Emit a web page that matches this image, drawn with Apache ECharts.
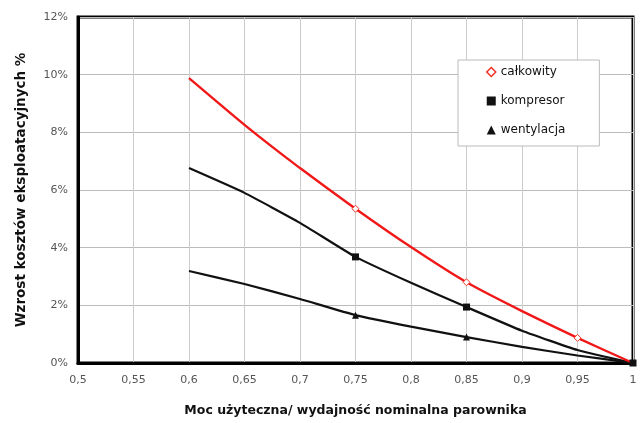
<!DOCTYPE html>
<html><head><meta charset="utf-8">
<script src="https://cdn.jsdelivr.net/npm/echarts@6/dist/echarts.min.js"></script>
<style>html,body{margin:0;padding:0;background:#fff}#c{width:643px;height:423px}</style>
</head><body><div id="c"></div>
<script>
const xValues = [0.6, 0.65, 0.7, 0.75, 0.8, 0.85, 0.9, 0.95, 1];
const calkowity = [9.88, 8.26, 6.76, 5.35, 4.02, 2.8, 1.8, 0.87, 0];
const kompresor = [6.76, 5.9, 4.86, 3.68, 2.78, 1.94, 1.12, 0.45, 0];
const wentylacja = [3.19, 2.74, 2.22, 1.66, 1.26, 0.9, 0.56, 0.26, 0];
const calkowityMarks = [0.75, 0.85, 0.95];
const kompresorMarks = [0.75, 0.85, 1];
const wentylacjaMarks = [0.75, 0.85];
const seriesNames = ['całkowity', 'kompresor', 'wentylacja'];

function build(vals, marks) {
  return xValues.map((x, i) => ({
    value: [x, vals[i]],
    symbolSize: marks.includes(x) ? 7 : 0
  }));
}
const font = '"DejaVu Sans", Arial, sans-serif';
const chart = echarts.init(document.getElementById('c'));
chart.setOption({
  animation: false,
  grid: {left: 78, right: 10, top: 17, bottom: 60, show: true, borderColor: '#000', borderWidth: 3},
  legend: {
    orient: 'vertical', left: 458, top: 60, width: 138,
    backgroundColor: '#fff', borderColor: '#bbb', borderWidth: 1,
    padding: [6, 34, 10, 28], itemGap: 17, itemWidth: 9, itemHeight: 9,
    textStyle: {fontFamily: font, fontSize: 12, color: '#111'},
    data: [
      {name: seriesNames[0], icon: 'diamond', itemStyle: {color: '#fff', borderColor: '#f03020', borderWidth: 1.5}},
      {name: seriesNames[1], icon: 'rect'},
      {name: seriesNames[2], icon: 'triangle'}
    ]
  },
  xAxis: {
    type: 'value', min: 0.5, max: 1, interval: 0.05,
    name: 'Moc użyteczna/ wydajność nominalna parownika',
    nameLocation: 'middle', nameGap: 41,
    nameTextStyle: {fontFamily: font, fontSize: 12.5, fontWeight: 'bold', color: '#111'},
    axisLine: {lineStyle: {color: '#000', width: 3}},
    axisTick: {show: false},
    axisLabel: {fontFamily: font, fontSize: 11, color: '#555', margin: 12,
      formatter: v => String(parseFloat(v.toFixed(2))).replace('.', ',')},
    splitLine: {show: true, lineStyle: {color: '#ccc', width: 1}}
  },
  yAxis: {
    type: 'value', min: 0, max: 12, interval: 2,
    name: 'Wzrost kosztów eksploatacyjnych %',
    nameLocation: 'middle', nameGap: 50,
    nameTextStyle: {fontFamily: font, fontSize: 13.5, fontWeight: 'bold', color: '#111'},
    axisLine: {lineStyle: {color: '#000', width: 3}},
    axisTick: {show: false},
    axisLabel: {fontFamily: font, fontSize: 11, color: '#555', margin: 10, formatter: '{value}%'},
    splitLine: {show: true, lineStyle: {color: '#bbb', width: 1}}
  },
  series: [
    {name: seriesNames[2], type: 'line', smooth: 0.15, symbol: 'triangle', data: build(wentylacja, wentylacjaMarks),
      lineStyle: {color: '#111', width: 2.2}, itemStyle: {color: '#111'}},
    {name: seriesNames[1], type: 'line', smooth: 0.15, symbol: 'rect', data: build(kompresor, kompresorMarks),
      lineStyle: {color: '#111', width: 2.2}, itemStyle: {color: '#111'}},
    {name: seriesNames[0], type: 'line', smooth: 0.15, symbol: 'diamond', data: build(calkowity, calkowityMarks),
      lineStyle: {color: '#f01818', width: 2.4}, itemStyle: {color: '#fff', borderColor: '#f03020', borderWidth: 1}}
  ]
});
</script></body></html>
